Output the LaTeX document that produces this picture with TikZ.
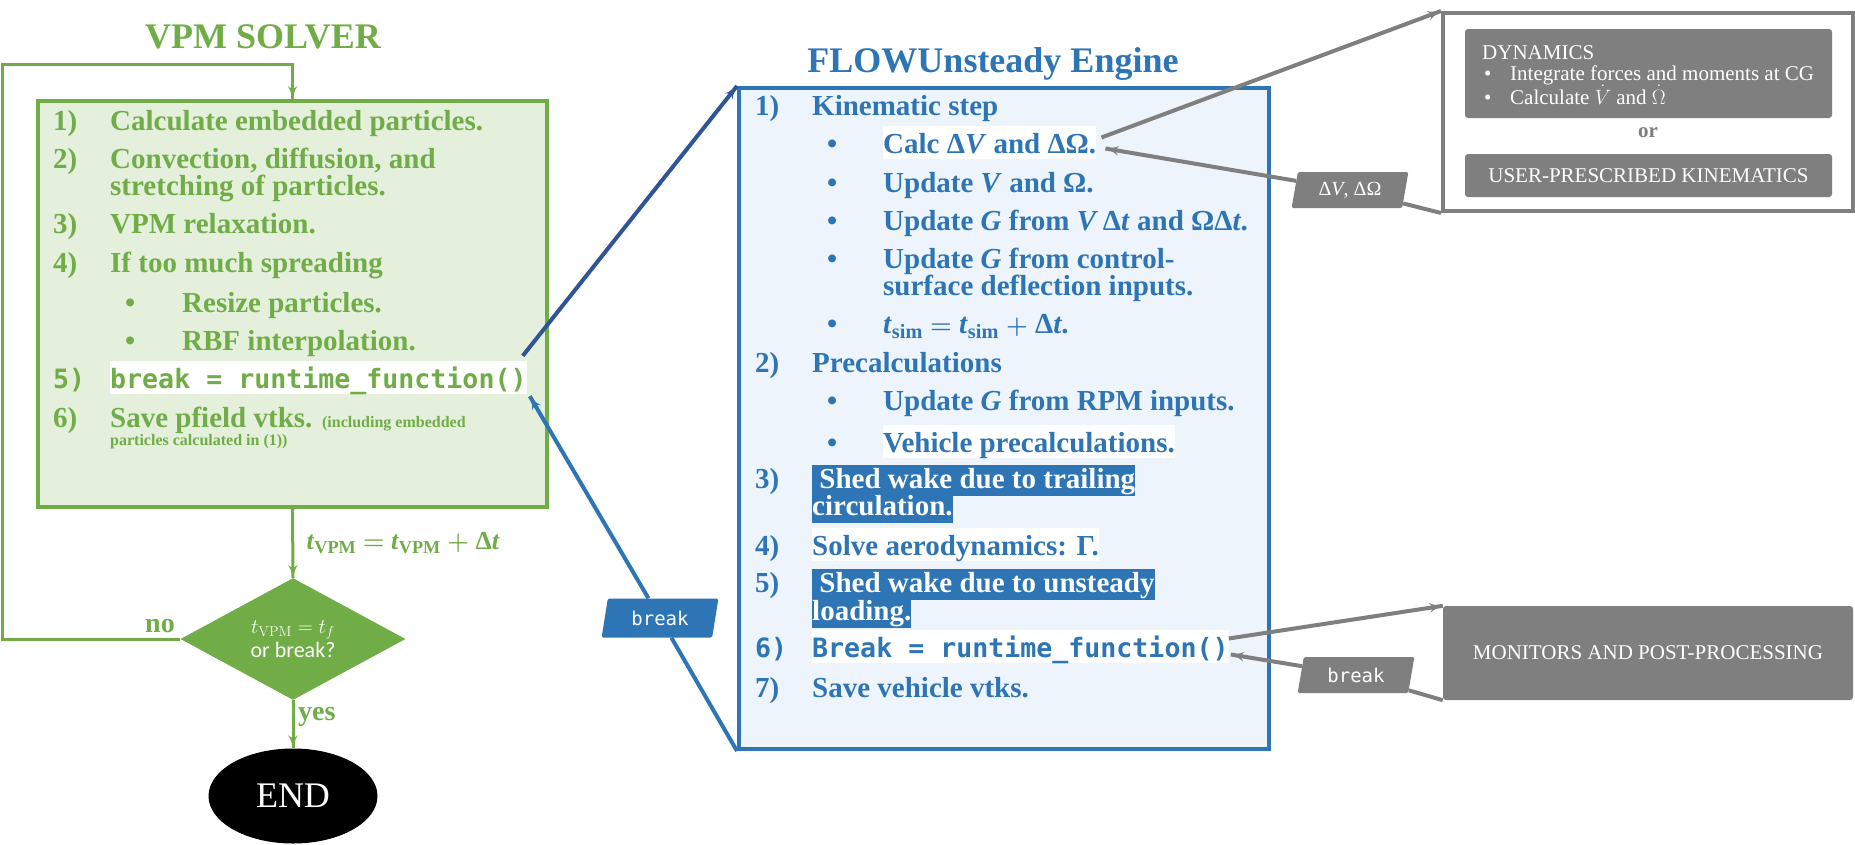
\documentclass[tikz,border=0pt]{standalone}
\usepackage{amsmath}
\usepackage{amssymb}
\usepackage[no-math]{fontspec}
\setmainfont{Liberation Serif}
\setmonofont{DejaVu Sans Mono}
\newfontfamily\calibfont{Carlito}
\usepackage{tikz}
\usetikzlibrary{arrows}
\usetikzlibrary{decorations.markings}
\usetikzlibrary{shapes.geometric}
\usetikzlibrary{positioning}

\definecolor{vgreen}{HTML}{70AD47}
\definecolor{vgreenfill}{HTML}{E4EFDC}
\definecolor{fblue}{HTML}{2E75B6}
\definecolor{fbluefill}{HTML}{EEF4FB}
\definecolor{darkarr}{HTML}{2F5597}
\definecolor{greybox}{HTML}{7F7F7F}

\newcommand{\titlefont}{\fontsize{36}{40}\selectfont\bfseries}
\newcommand{\itemfont}{\fontsize{29}{34}\selectfont\bfseries\boldmath}
\newcommand{\codefont}{\fontsize{26.6}{32}\selectfont\ttfamily\bfseries}
\newcommand{\boxfont}{\fontsize{21}{24}\selectfont}

\tikzset{arrowend/.style = {decoration={markings,
                                        mark=at position 1 with {\arrow[scale=#1]{latex'}}},
                            postaction={decorate}},
         arrowend/.default = 1}
\tikzset{line/.style = {anchor = base west, inner sep = 0, text height = 20pt, text depth = 6pt}}
\tikzset{gtxt/.style = {line, text = vgreen, font = \itemfont}}
\tikzset{btxt/.style = {line, text = fblue, font = \itemfont}}
\tikzset{hl/.style = {fill = white, text height = 27pt, text depth = 6pt}}
\tikzset{sel/.style = {fill = fblue, text = white, text height = 23pt, text depth = 8pt}}
\tikzset{wtxt/.style = {anchor = base west, inner sep = 0, text = white, font = \boxfont}}
\tikzset{slant/.style = {trapezium, trapezium left angle = 77, trapezium right angle = 103,
                         trapezium stretches = true, minimum width = 117pt, minimum height = 36pt,
                         inner sep = 0, fill = greybox, text = white, rounded corners = 1.5pt}}
\tikzset{greyrect/.style = {fill = greybox, rounded corners = 3pt, inner sep = 0,
                            text = white, font = \boxfont}}

\begin{document}
\begin{tikzpicture}[x=1pt, y=-1pt]
    \useasboundingbox (0, 0) rectangle (1855, 844);

    % VPM solver loop
    \node [anchor = base, text = vgreen, font = \titlefont] (vpmtitle) at (263, 48) {VPM SOLVER};
    \node [draw = vgreen, fill = vgreenfill, line width = 4pt, inner sep = 0,
           minimum width = 509pt, minimum height = 406pt] (vpm) at (292.5, 304) {};

    \foreach \n/\y in {1/130, 2/168, 3/233, 4/272, 6/427}
      \node [gtxt] (gn\n) at (53, \y) {\n)};
    \node [gtxt] (g1) at (110, 130) {Calculate embedded particles.};
    \node [gtxt] (g2a) at (110, 168) {Convection, diffusion, and};
    \node [gtxt] (g2b) at (110, 195) {stretching of particles.};
    \node [gtxt] (g3) at (110, 233) {VPM relaxation.};
    \node [gtxt] (g4) at (110, 272) {If too much spreading};
    \foreach \y in {312, 350}
      \node [gtxt] (gb\y) at (125, \y) {\textbullet};
    \node [gtxt] (g4a) at (182, 312) {Resize particles.};
    \node [gtxt] (g4b) at (182, 350) {RBF interpolation.};
    \node [gtxt, font = \codefont] (gn5) at (53, 388) {5)};
    \node [gtxt, hl, font = \codefont] (g5) at (110, 388) {break = runtime\_function()};
    \node [gtxt] (g6) at (110, 427) {Save pfield vtks. {\fontsize{16}{18}\selectfont (including embedded}};
    \node [gtxt, font = \fontsize{16}{18}\selectfont\bfseries] (g6b) at (110, 445) {particles calculated in (1))};

    \node [diamond, fill = vgreen, inner sep = 0, minimum width = 225pt, minimum height = 117pt,
           text = white, align = center, font = \fontsize{22}{24}\selectfont] (check) at (293, 639)
          {$t_{\mathrm{VPM}} = t_f$\\{\calibfont or break?}};
    \node [ellipse, fill = black, inner sep = 0, minimum width = 169pt, minimum height = 95pt,
           text = white, font = \fontsize{36}{40}\selectfont] (stop) at (293, 796) {END};

    \node [anchor = west, text = vgreen, font = \fontsize{26}{30}\selectfont\bfseries\boldmath] (dt)
          at (303, 543) {\textit{t}\textsubscript{VPM} $=$ \textit{t}\textsubscript{VPM} $+$ Δ\textit{t}};
    \node [anchor = base east, inner sep = 0, text = vgreen, font = \fontsize{28}{30}\selectfont\bfseries] (no)
          at (175, 632) {no};
    \node [anchor = base west, inner sep = 0, text = vgreen, font = \fontsize{28}{30}\selectfont\bfseries] (yes)
          at (298, 720) {yes};

    \coordinate (looptop) at (2, 64);
    \draw [vgreen, line width = 3pt, arrowend = 1.1] (vpm.south) -- (check.north);
    \draw [vgreen, line width = 3pt, arrowend = 1.1] (check.south) -- (stop.north);
    \draw [vgreen, line width = 3pt, arrowend = 1.1] (check.west) -| (looptop) -| (vpm.north);

    % FLOWUnsteady engine
    \node [anchor = base, text = fblue, font = \titlefont] (fwtitle) at (993, 72) {FLOWUnsteady Engine};
    \node [draw = fblue, fill = fbluefill, line width = 4pt, inner sep = 0,
           minimum width = 530pt, minimum height = 661pt] (engine) at (1004, 418.5) {};

    \foreach \n/\y in {1/115, 2/372, 3/488, 4/555, 5/592, 7/697}
      \node [btxt] (bn\n) at (755, \y) {\n)};
    \foreach \y in {153, 192, 230, 268, 333, 410, 452}
      \node [btxt] (bb\y) at (827, \y) {\textbullet};
    \node [btxt] (k0) at (812, 115) {Kinematic step};
    \node [btxt, hl] (k1) at (883, 153) {Calc Δ\textit{V} and ΔΩ.};
    \node [btxt] (k2) at (883, 192) {Update \textit{V} and Ω.};
    \node [btxt] (k3) at (883, 230) {Update \textit{G} from \textit{V}\,Δ\textit{t} and ΩΔ\textit{t}.};
    \node [btxt] (k4a) at (883, 268) {Update \textit{G} from control-};
    \node [btxt] (k4b) at (883, 295) {surface deflection inputs.};
    \node [btxt] (k5) at (883, 333) {\textit{t}\textsubscript{sim} $=$ \textit{t}\textsubscript{sim} $+$ Δ\textit{t}.};
    \node [btxt] (p0) at (812, 372) {Precalculations};
    \node [btxt] (p1) at (883, 410) {Update \textit{G} from RPM inputs.};
    \node [btxt, hl] (p2) at (883, 452) {Vehicle precalculations.};
    \node [btxt, sel] (s3a) at (812, 488) {\ Shed wake due to trailing};
    \node [btxt, sel] (s3b) at (812, 515) {circulation.};
    \node [btxt, hl] (s4) at (812, 555) {Solve aerodynamics: Γ.};
    \node [btxt, sel] (s5a) at (812, 592) {\ Shed wake due to unsteady};
    \node [btxt, sel] (s5b) at (812, 620) {loading.};
    \node [btxt, font = \codefont] (bn6) at (755, 657) {6)};
    \node [btxt, hl, font = \codefont] (s6) at (812, 657) {Break = runtime\_function()};
    \node [btxt] (s7) at (812, 697) {Save vehicle vtks.};

    \node [slant, fill = fblue, minimum height = 39pt, font = \fontsize{19}{22}\selectfont\ttfamily]
          (brkb) at (660, 618) {break};

    \draw [darkarr, line width = 4pt, arrowend = 0.9] ([shift={(-4,-5)}]g5.north east) -- (engine.north west);
    \draw [fblue, line width = 4pt, arrowend = 0.9] (engine.south west) -- (brkb) -- ([shift={(3,2)}]g5.south east);

    % vehicle dynamics and monitors
    \node [draw = greybox, fill = white, line width = 4pt, inner sep = 0,
           minimum width = 410pt, minimum height = 198pt] (outer) at (1648, 112) {};
    \node [greyrect, minimum width = 367pt, minimum height = 89pt] (dyn) at (1648.5, 73.5) {};
    \node [wtxt] (dyntitle) at (1482, 59) {DYNAMICS};
    \node [wtxt] (dynb1) at (1484, 80) {\textbullet};
    \node [wtxt] (dyn1) at (1510, 80) {Integrate forces and moments at CG};
    \node [wtxt] (dynb2) at (1484, 104) {\textbullet};
    \node [wtxt] (dyn2) at (1510, 104) {Calculate $\dot{V}$ and $\dot{\Omega}$};
    \node [text = greybox, font = \boxfont\bfseries] (orlab) at (1648, 133) {or};
    \node [greyrect, minimum width = 367pt, minimum height = 43pt] (user) at (1648.5, 175.5)
          {USER-PRESCRIBED KINEMATICS};
    \node [greyrect, minimum width = 410pt, minimum height = 94pt] (mon) at (1648, 653)
          {MONITORS AND POST-PROCESSING};

    \node [slant, font = \fontsize{20}{22}\selectfont] (dlab) at (1350, 190) {Δ\textit{V}, ΔΩ};
    \node [slant, font = \fontsize{19}{22}\selectfont\ttfamily] (brkg) at (1356, 675) {break};

    \draw [greybox, line width = 4pt, arrowend = 0.9] ([shift={(5,-5)}]k1.east) -- (outer.north west);
    \draw [greybox, line width = 4pt, arrowend = 0.9] (outer.south west) -- (dlab) -- ([shift={(9,6)}]k1.east);
    \draw [greybox, line width = 4pt, arrowend = 0.9] ([shift={(0,-8)}]s6.east) -- (mon.north west);
    \draw [greybox, line width = 4pt, arrowend = 0.9] (mon.south west) -- (brkg) -- ([shift={(2,8)}]s6.east);
  \end{tikzpicture}
\end{document}
